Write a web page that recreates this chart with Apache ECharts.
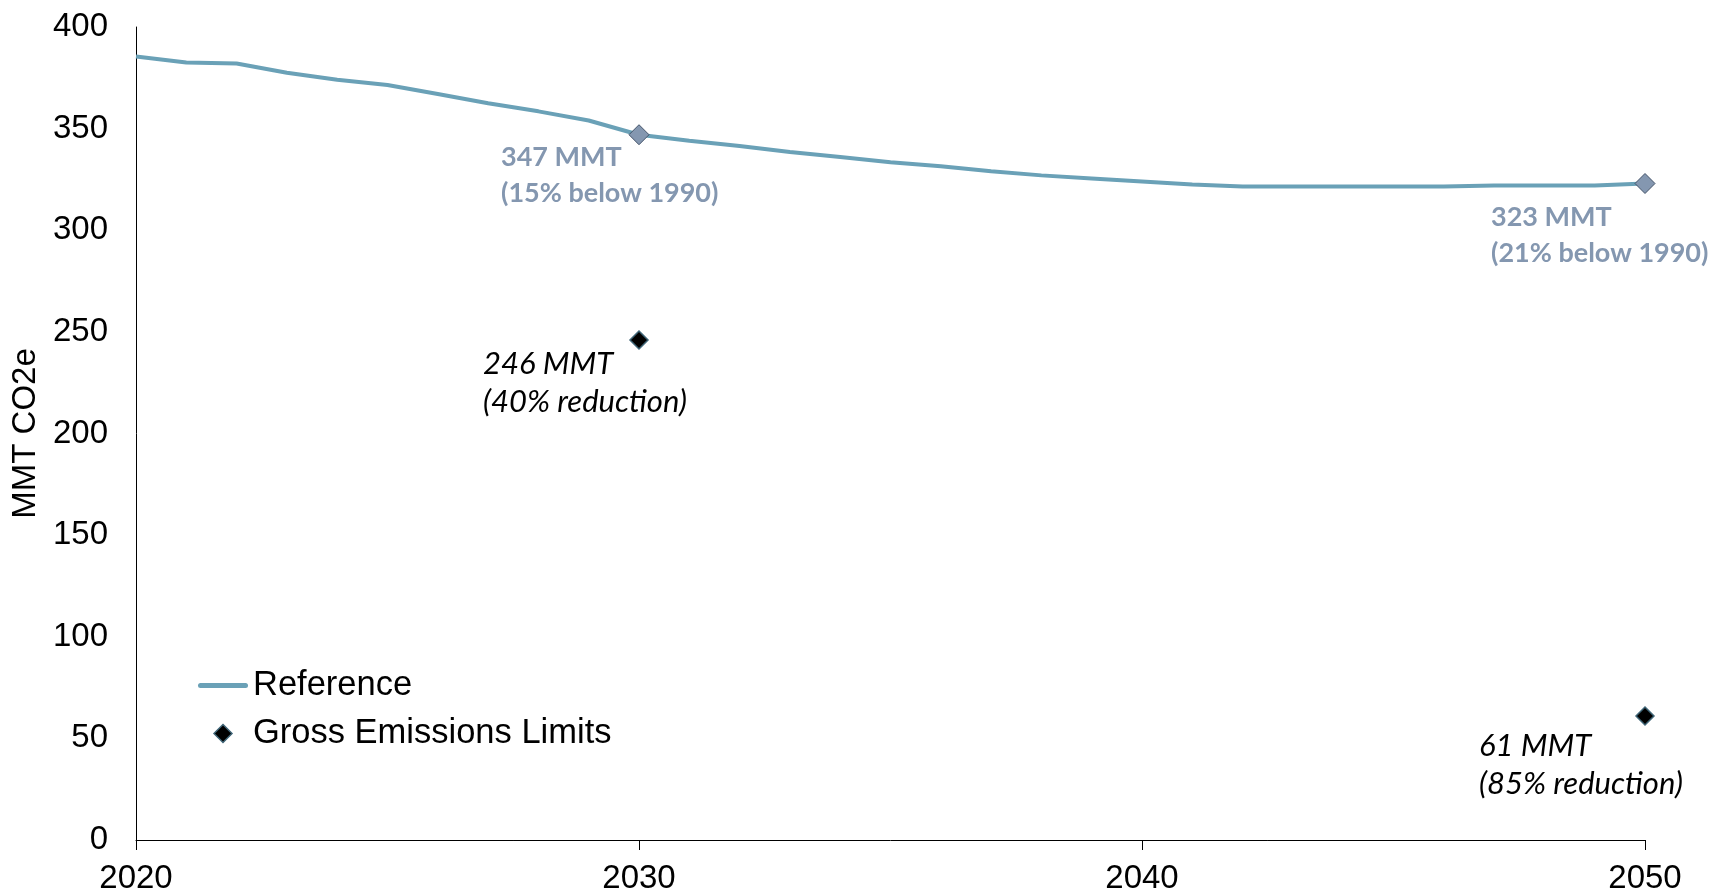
<!DOCTYPE html>
<html>
<head>
<meta charset="utf-8">
<title>Reference emissions vs. gross emissions limits</title>
<script src="https://cdn.jsdelivr.net/npm/echarts@6/dist/echarts.min.js"></script>
<style>
  html, body { margin: 0; padding: 0; background: #ffffff; }
  #chart { width: 1714px; height: 895px; }
</style>
</head>
<body>
<div id="chart"></div>
<script>
// Reference emissions path, one value per year (MMT CO2e)
const years = [2020, 2021, 2022, 2023, 2024, 2025, 2026, 2027, 2028, 2029,
               2030, 2031, 2032, 2033, 2034, 2035, 2036, 2037, 2038, 2039,
               2040, 2041, 2042, 2043, 2044, 2045, 2046, 2047, 2048, 2049, 2050];
const referenceValues = [385.5, 382.5, 382, 377.5, 374, 371.5, 367, 362.5, 358.5, 354,
                         347, 344, 341.5, 338.5, 336, 333.5, 331.5, 329, 327, 325.5,
                         324, 322.5, 321.5, 321.5, 321.5, 321.5, 321.5, 322, 322, 322, 323];

// Milestone years highlighted on the reference path
const referenceMilestoneYears = [2030, 2050];
const referenceMilestoneNotes = ['15% below 1990', '21% below 1990'];

// Statutory gross emissions limits
const limitYears = [2030, 2050];
const limitValues = [246, 61];
const limitNotes = ['40% reduction', '85% reduction'];

// Axis ticks
const xTicks = { min: 2020, max: 2050, step: 10 };
const yTicks = { min: 0, max: 400, step: 50 };

// Label placement relative to each marker (pixels)
const referenceLabelOffsets = [[-138, 41], [-154, 52]];
const limitLabelOffsets = [[-156, 43], [-166, 49]];

const LINE_COLOR = '#6aa1b7';
const NOTE_COLOR = '#8497b0';
const LIMIT_BORDER = '#3f6577';
const AXIS_FONT = '"Liberation Sans", Arial, sans-serif';
const NOTE_FONT = 'Lato, "Open Sans", sans-serif';

// Legend glyphs: a rounded stroke for the path, a square diamond for the limits
const LEGEND_LINE_ICON = 'path://M2.5,0 H47.5 A2.5,2.5 0 0 1 47.5,5 H2.5 A2.5,2.5 0 0 1 2.5,0 Z';
const LEGEND_DIAMOND_ICON = 'path://M9,0 L18,9 L9,18 L0,9 Z';

const referenceLine = years.map((y, i) => [y, referenceValues[i]]);

const referenceMilestones = referenceMilestoneYears.map((yr, i) => ({
  value: [yr, referenceValues[years.indexOf(yr)]],
  note: referenceMilestoneNotes[i],
  label: { offset: referenceLabelOffsets[i] }
}));

const limitPoints = limitYears.map((yr, i) => ({
  value: [yr, limitValues[i]],
  note: limitNotes[i],
  label: { offset: limitLabelOffsets[i] }
}));

const chart = echarts.init(document.getElementById('chart'), null, { renderer: 'canvas' });

chart.setOption({
  animation: false,
  backgroundColor: '#ffffff',
  grid: { left: 136, right: 69, top: 27, bottom: 54, containLabel: false },
  legend: {
    orient: 'vertical',
    left: 193,
    top: 663,
    itemWidth: 50,
    itemHeight: 18,
    itemGap: 13,
    symbolKeepAspect: true,
    selectedMode: false,
    textStyle: { fontFamily: AXIS_FONT, fontSize: 34.5, color: '#000000', lineHeight: 35 },
    data: [
      {
        name: 'Reference',
        icon: LEGEND_LINE_ICON,
        itemStyle: { color: LINE_COLOR, borderWidth: 0 }
      },
      {
        name: 'Gross Emissions Limits',
        icon: LEGEND_DIAMOND_ICON,
        itemStyle: { color: '#000000', borderColor: LIMIT_BORDER, borderWidth: 1.5 }
      }
    ]
  },
  xAxis: {
    type: 'value',
    min: xTicks.min,
    max: xTicks.max,
    interval: xTicks.step,
    splitLine: { show: false },
    axisLine: { show: true, onZero: false, lineStyle: { color: '#000000', width: 1 } },
    axisTick: { show: true, inside: false, length: 10, lineStyle: { color: '#000000', width: 1 } },
    axisLabel: {
      margin: 22,
      fontFamily: AXIS_FONT,
      fontSize: 33,
      color: '#000000',
      formatter: v => String(v)
    }
  },
  yAxis: {
    type: 'value',
    min: yTicks.min,
    max: yTicks.max,
    interval: yTicks.step,
    name: 'MMT CO2e',
    nameLocation: 'middle',
    nameGap: 94,
    nameRotate: 90,
    nameTextStyle: { fontFamily: AXIS_FONT, fontSize: 33, color: '#000000' },
    splitLine: { show: false },
    axisLine: { show: true, lineStyle: { color: '#000000', width: 1 } },
    axisTick: { show: false },
    axisLabel: { margin: 28, fontFamily: AXIS_FONT, fontSize: 33, color: '#000000' }
  },
  series: [
    {
      name: 'Reference',
      type: 'line',
      data: referenceLine,
      symbol: 'none',
      smooth: false,
      lineStyle: { color: LINE_COLOR, width: 4 },
      itemStyle: { color: LINE_COLOR },
      z: 2
    },
    {
      name: 'Reference milestones',
      type: 'scatter',
      data: referenceMilestones,
      symbol: 'diamond',
      symbolSize: 20,
      itemStyle: { color: NOTE_COLOR, borderColor: '#44546a', borderWidth: 1, opacity: 1 },
      label: {
        show: true,
        position: 'inside',
        align: 'left',
        verticalAlign: 'middle',
        fontFamily: NOTE_FONT,
        fontWeight: 'bold',
        fontSize: 27,
        lineHeight: 36,
        color: NOTE_COLOR,
        formatter: p => p.value[1] + ' MMT\n(' + p.data.note + ')'
      },
      z: 3
    },
    {
      name: 'Gross Emissions Limits',
      type: 'scatter',
      data: limitPoints,
      symbol: 'diamond',
      symbolSize: 18,
      itemStyle: { color: '#000000', borderColor: LIMIT_BORDER, borderWidth: 1.5, opacity: 1 },
      label: {
        show: true,
        position: 'inside',
        align: 'left',
        verticalAlign: 'middle',
        fontFamily: NOTE_FONT,
        fontStyle: 'italic',
        fontSize: 31,
        lineHeight: 38,
        color: '#000000',
        formatter: p => p.value[1] + ' MMT\n(' + p.data.note + ')'
      },
      z: 3
    }
  ]
});
</script>
</body>
</html>
